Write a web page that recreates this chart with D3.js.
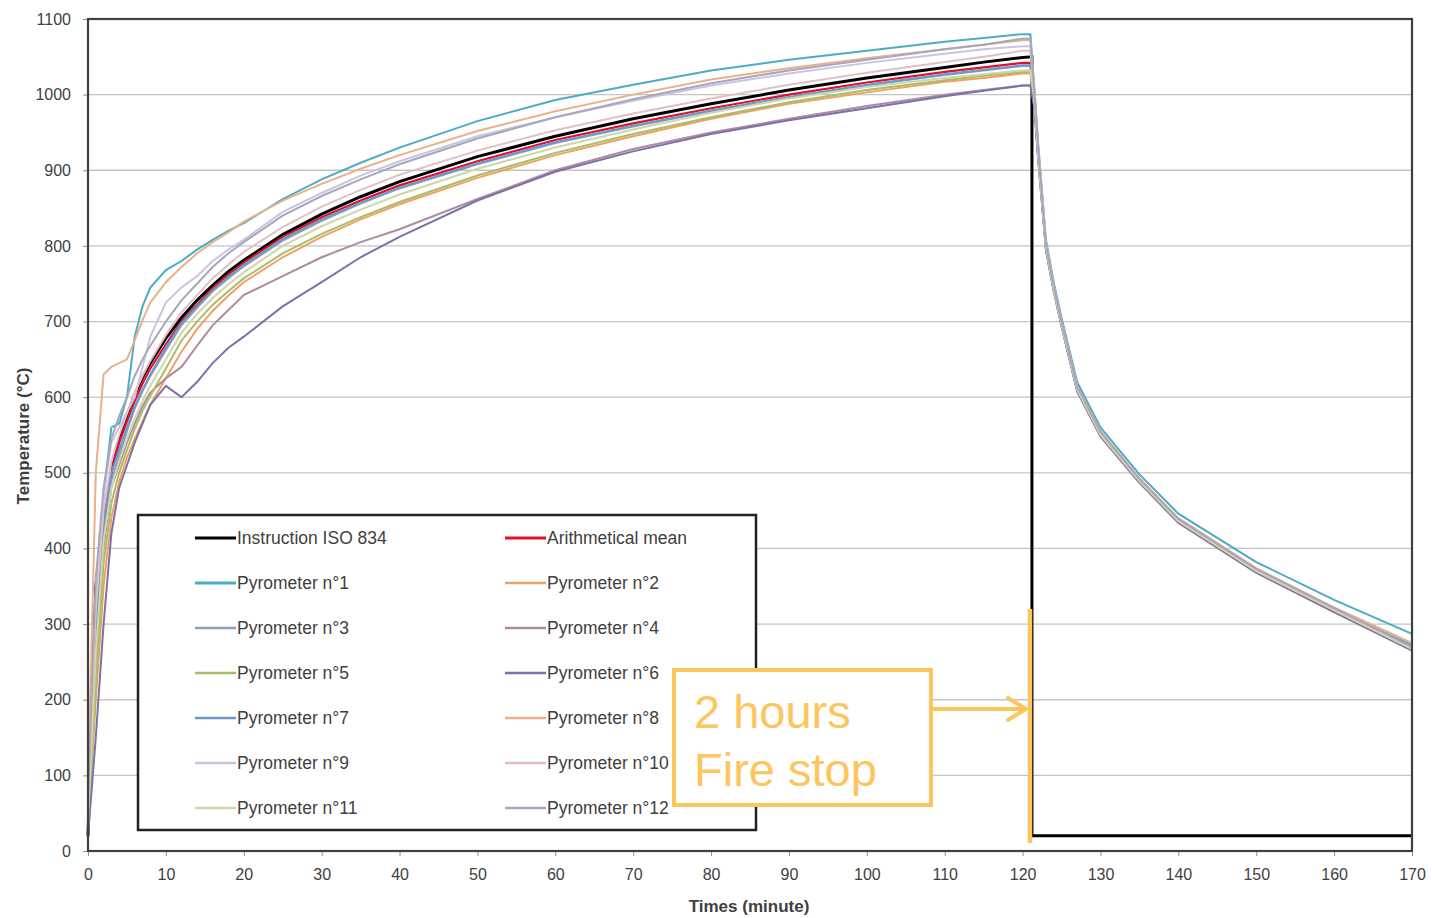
<!DOCTYPE html>
<html>
<head>
<meta charset="utf-8">
<script src="https://cdn.jsdelivr.net/npm/d3@7"></script>
<style>
  body { margin: 0; background: #fff; }
</style>
</head>
<body>
<svg id="fig" width="1432" height="918"></svg>
<script>

// time axis shared by the measured curves (minutes)
var times = [0,1,2,3,4,5,6,7,8,10,12,14,16,18,20,25,30,35,40,50,60,70,80,90,100,110,115,120,121,121.5,122,123,124,125,127,130,135,140,150,160,170];

// ISO 834 instruction curve
var isoTimes  = [0,1,2,3,4,5,6,7,8,10,12,14,16,18,20,25,30,35,40,50,60,70,80,90,100,110,115,120,121.2,121.2,170];
var isoValues = [20,349,445,502,544,576,603,626,645,678,705,728,748,766,781,815,842,865,885,918,945,968,988,1006,1022,1036,1043,1049,1050,20,20];

var meanValues = [40,320,440,505,540,568,595,618,638,670,700,722,744,762,778,812,838,860,880,912,940,962,982,1000,1016,1030,1036,1042,1042,1000,925,800,745,698,612,552,490,437,371,319,270];

var pyro1  = [60,340,470,560,565,600,680,720,745,768,780,795,808,820,830,862,888,910,930,965,993,1013,1032,1046,1058,1070,1075,1080,1080,1010,935,808,752,705,620,560,498,446,382,332,287];
var pyro2  = [30,200,350,440,488,520,545,568,590,625,660,690,714,734,752,785,812,835,855,890,920,945,968,988,1003,1017,1022,1028,1028,992,918,796,741,694,608,548,487,434,368,316,266];
var pyro3  = [40,280,420,490,522,555,585,608,628,662,695,718,740,757,773,807,833,856,876,908,936,958,978,996,1012,1026,1032,1038,1038,996,922,799,744,697,611,551,489,436,370,318,269];
var pyro4  = [30,250,400,480,510,540,565,588,606,625,640,668,695,715,735,760,785,805,822,862,900,928,950,968,985,1000,1006,1012,1012,985,916,795,741,695,609,549,488,435,369,317,266];
var pyro5  = [30,220,380,460,500,530,558,582,602,638,675,700,722,740,757,790,816,838,858,893,923,948,970,990,1006,1019,1025,1030,1030,993,919,797,742,696,610,550,489,436,370,318,268];
var pyro6  = [20,150,300,420,480,510,540,565,590,615,600,620,645,665,680,720,752,785,812,860,898,925,948,966,982,998,1005,1012,1012,984,915,794,740,694,608,548,487,434,368,316,265];
var pyro7  = [50,300,430,500,530,560,588,610,630,666,698,720,741,759,775,809,835,857,877,909,937,959,979,997,1013,1027,1033,1039,1039,997,923,800,744,697,611,551,490,437,371,320,272];
var pyro8  = [80,500,630,640,645,650,675,702,725,752,772,790,805,818,832,860,882,902,920,952,978,1000,1020,1035,1048,1060,1066,1072,1072,1006,930,803,748,700,615,555,493,440,374,322,275];
var pyro9  = [60,330,470,540,560,580,600,640,680,725,745,760,780,795,808,845,870,893,912,945,970,992,1012,1028,1042,1054,1060,1064,1064,1003,928,802,747,699,613,553,491,438,372,320,268];
var pyro10 = [50,320,450,515,550,578,605,628,648,682,712,735,757,775,792,825,852,874,894,926,953,975,995,1013,1029,1043,1050,1058,1058,1002,927,801,746,699,613,553,491,438,372,320,268];
var pyro11 = [40,260,410,480,515,545,572,595,615,650,685,710,731,749,765,800,826,848,868,902,930,954,976,995,1010,1022,1027,1032,1032,994,920,797,742,696,610,550,489,436,370,318,267];
var pyro12 = [70,360,480,545,575,600,628,650,668,700,728,750,772,790,805,840,866,888,908,942,970,994,1015,1032,1046,1060,1066,1074,1074,1005,929,802,747,700,614,554,492,439,373,321,270];

var legendNames = ["Instruction ISO 834","Arithmetical mean",
                   "Pyrometer n°1","Pyrometer n°2","Pyrometer n°3","Pyrometer n°4",
                   "Pyrometer n°5","Pyrometer n°6","Pyrometer n°7","Pyrometer n°8",
                   "Pyrometer n°9","Pyrometer n°10","Pyrometer n°11","Pyrometer n°12"];
var legendColors = ["#000000","#e3102a",
                    "#4bacc6","#f0a060","#8aa0bc","#b08aa0",
                    "#aabb6a","#7a72a8","#6a9acb","#eab08a",
                    "#c8c4e2","#e2bfc6","#cfd6a8","#a8a6bc"];
var pyroSeries = [pyro1,pyro2,pyro3,pyro4,pyro5,pyro6,pyro7,pyro8,pyro9,pyro10,pyro11,pyro12];

var xTicks = d3.range(0, 171, 10);
var yTicks = d3.range(0, 1101, 100);

var svg = d3.select("#fig");
var plotLeft = 88, plotRight = 1412, plotTop = 19, plotBottom = 851;

var x = d3.scaleLinear().domain([0,170]).range([plotLeft,plotRight]);
var y = d3.scaleLinear().domain([0,1100]).range([plotBottom,plotTop]);

function append_text( grp, px, py, text, align='start', size='14px', weight='normal' ){
    return grp.append("text")
        .style("fill", "#404040")
        .style("font-size", size)
        .style("font-weight", weight)
        .attr("font-family", "Liberation Sans, Arial")
        .attr("text-anchor", align)
        .attr("transform", "translate("+ px +","+ py +")")
        .text( text );
}

// grid
svg.append("g").selectAll("line")
    .data(yTicks.slice(1, -1))
    .enter().append("line")
    .attr("x1", plotLeft).attr("x2", plotRight)
    .attr("y1", function(d){ return y(d); })
    .attr("y2", function(d){ return y(d); })
    .attr("stroke", "#c4c4c4")
    .attr("stroke-width", 1.3);

// axes
var gy = svg.append("g").attr("transform", "translate("+plotLeft+",0)")
    .call(d3.axisLeft(y).tickValues(yTicks).tickFormat(d3.format("d")).tickSize(5).tickPadding(12));
var gx = svg.append("g").attr("transform", "translate(0,"+plotBottom+")")
    .call(d3.axisBottom(x).tickValues(xTicks).tickFormat(d3.format("d")).tickSize(5).tickPadding(13));
[gy, gx].forEach(function(g){
    g.select(".domain").remove();
    g.selectAll(".tick line").attr("stroke", "#909090");
    g.selectAll("text").style("font-size", "16px")
        .attr("font-family", "Liberation Sans, Arial")
        .style("fill", "#404040");
});

let line = d3.line()
    .x(function(d){ return x(d[0]); })
    .y(function(d){ return y(d[1]); });

// ISO 834 instruction
svg.append("path")
    .attr("d", line(isoTimes.map(function(t,i){ return [t, isoValues[i]]; })))
    .attr("fill", "none")
    .attr("stroke", legendColors[0])
    .attr("stroke-width", 3);

// arithmetical mean
svg.append("path")
    .attr("d", line(times.map(function(t,i){ return [t, meanValues[i]]; })))
    .attr("fill", "none")
    .attr("stroke", legendColors[1])
    .attr("stroke-width", 2.2);

// pyrometers
let g_lines = svg.append("g");
pyroSeries.forEach(function(s, k){
    g_lines.append("path")
        .attr("d", line(times.map(function(t,i){ return [t, s[i]]; })))
        .attr("fill", "none")
        .attr("stroke", legendColors[k+2])
        .attr("stroke-width", 2);
});

// frame
svg.append("rect")
    .attr("x", plotLeft).attr("y", plotTop)
    .attr("width", plotRight-plotLeft).attr("height", plotBottom-plotTop)
    .attr("fill", "none")
    .attr("stroke", "#404040")
    .attr("stroke-width", 2.2);

// axis titles
append_text(svg, 749, 912, "Times (minute)", "middle", "17px", "bold");
append_text(svg, 29, 436, "Temperature (°C)", "middle", "17px", "bold")
    .attr("transform", "translate(29,436) rotate(-90)");

// legend
let g_leg = svg.append("g");
g_leg.append("rect")
    .attr("x", 138).attr("y", 515)
    .attr("width", 618).attr("height", 315)
    .attr("fill", "#fff")
    .attr("stroke", "#222")
    .attr("stroke-width", 2.5);
legendNames.forEach(function(n, i){
    let col = i % 2, row = Math.floor(i/2);
    let lx = col == 0 ? 195 : 505;
    let ly = 538 + row*45;
    g_leg.append("line")
        .attr("x1", lx).attr("x2", lx+41)
        .attr("y1", ly).attr("y2", ly)
        .attr("stroke", legendColors[i])
        .attr("stroke-width", i < 3 ? 3 : 2.5);
    append_text(g_leg, lx+42, ly+6, n, "start", "17.5px");
});

// fire stop annotation
var orange = "#fdc55e";
let g_ann = svg.append("g");
g_ann.append("rect")
    .attr("x", 674).attr("y", 670)
    .attr("width", 257).attr("height", 135)
    .attr("fill", "#fff")
    .attr("stroke", orange)
    .attr("stroke-width", 4);
g_ann.append("text")
    .attr("x", 694).attr("y", 728)
    .attr("font-family", "Liberation Sans, Arial")
    .style("font-size", "47px")
    .style("fill", orange)
    .text("2 hours");
g_ann.append("text")
    .attr("x", 694).attr("y", 786)
    .attr("font-family", "Liberation Sans, Arial")
    .style("font-size", "47px")
    .style("fill", orange)
    .text("Fire stop");
g_ann.append("line")
    .attr("x1", 1030).attr("x2", 1030)
    .attr("y1", 609).attr("y2", 843)
    .attr("stroke", orange)
    .attr("stroke-width", 4.5);
g_ann.append("line")
    .attr("x1", 933).attr("x2", 1025)
    .attr("y1", 709).attr("y2", 709)
    .attr("stroke", orange)
    .attr("stroke-width", 4);
g_ann.append("path")
    .attr("d", "M1008,698 L1026,709 L1008,720")
    .attr("fill", "none")
    .attr("stroke", orange)
    .attr("stroke-width", 4)
    .attr("stroke-linecap", "round")
    .attr("stroke-linejoin", "round");

</script>
</body>
</html>
